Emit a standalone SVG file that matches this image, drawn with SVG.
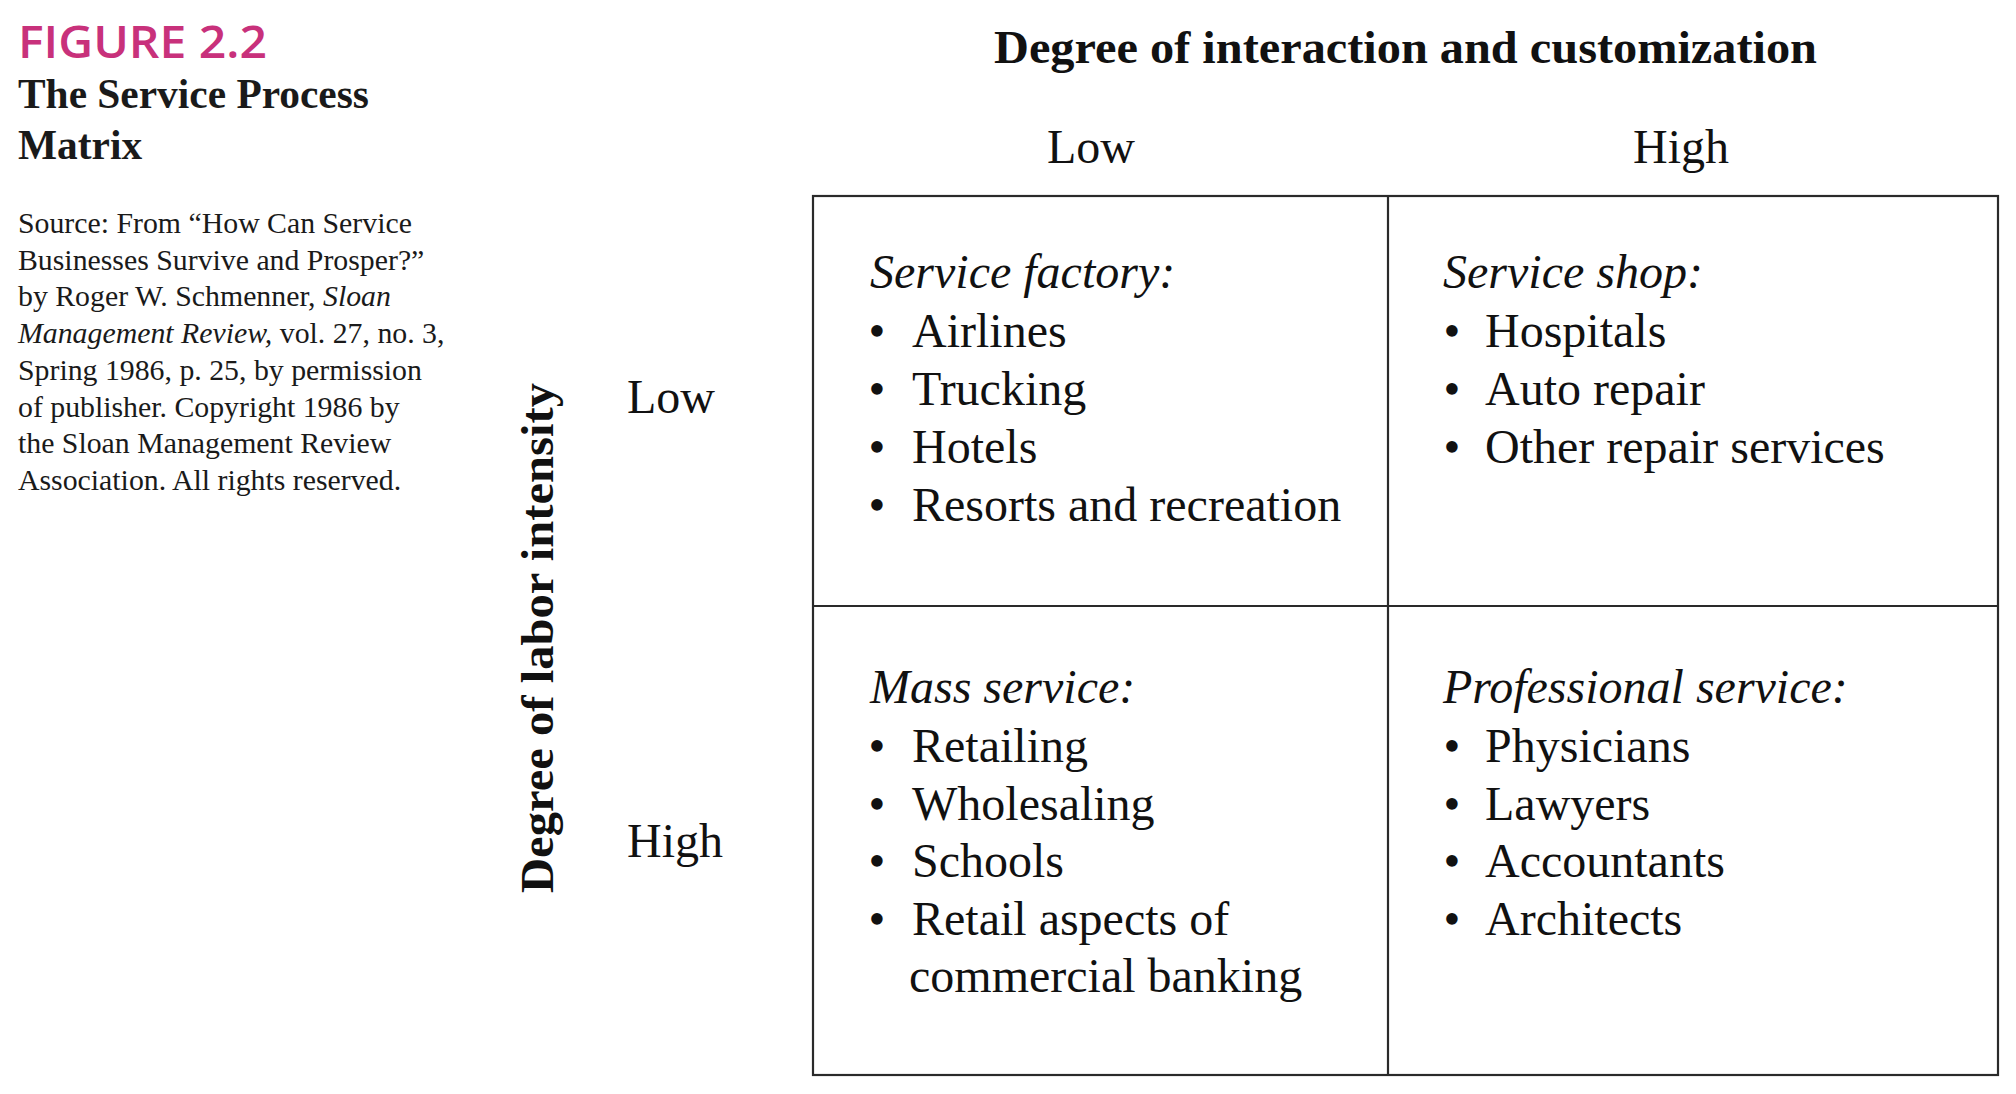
<svg xmlns="http://www.w3.org/2000/svg" width="2016" height="1094" viewBox="0 0 2016 1094">
<style>
.fig{font-family:"Open Sans","Liberation Sans",sans-serif;font-weight:600;font-size:45px;fill:#C8317B}
.ttl{font-family:"Liberation Serif","Times New Roman",serif;font-weight:bold;font-size:41.4px;fill:#1a1a1a}
.src{font-family:"Liberation Serif","Times New Roman",serif;font-size:29.8px;fill:#1a1a1a}
.ax{font-family:"Liberation Serif","Times New Roman",serif;font-weight:bold;font-size:46px;fill:#111}
.lv{font-family:"Liberation Serif","Times New Roman",serif;font-size:48px;fill:#111}
.hd{font-family:"Liberation Serif","Times New Roman",serif;font-style:italic;font-size:48px;fill:#111}
.it{font-family:"Liberation Serif","Times New Roman",serif;font-size:48px;fill:#111}
.bl{font-family:"Liberation Serif","Times New Roman",serif;font-size:48px;fill:#111;text-anchor:middle}
.grid{fill:none;stroke:#2a2a2a;stroke-width:2.2}
</style>
<rect width="2016" height="1094" fill="#fff"/>
<g id="caption">
<text class="fig" x="18" y="58" textLength="249" lengthAdjust="spacingAndGlyphs">FIGURE 2.2</text>
<text class="ttl" x="18" y="108">The Service Process</text>
<text class="ttl" x="18" y="159">Matrix</text>
<text class="src" x="18" y="233">Source: From “How Can Service</text>
<text class="src" x="18" y="270">Businesses Survive and Prosper?”</text>
<text class="src" x="18" y="306">by Roger W. Schmenner, <tspan font-style="italic">Sloan</tspan></text>
<text class="src" x="18" y="343"><tspan font-style="italic">Management Review,</tspan> vol. 27, no. 3,</text>
<text class="src" x="18" y="380">Spring 1986, p. 25, by permission</text>
<text class="src" x="18" y="417">of publisher. Copyright 1986 by</text>
<text class="src" x="18" y="453">the Sloan Management Review</text>
<text class="src" x="18" y="490">Association. All rights reserved.</text>
</g>
<g id="axes">
<text class="ax" x="994" y="63" textLength="823" lengthAdjust="spacingAndGlyphs">Degree of interaction and customization</text>
<text class="lv" x="1091" y="163" text-anchor="middle">Low</text>
<text class="lv" x="1681" y="163" text-anchor="middle">High</text>
<text class="ax" transform="translate(553,893) rotate(-90)" x="0" y="0" textLength="510" lengthAdjust="spacingAndGlyphs">Degree of labor intensity</text>
<text class="lv" x="627" y="413">Low</text>
<text class="lv" x="627" y="857">High</text>
</g>
<g id="connectors">
<rect class="grid" x="813" y="196" width="1185" height="879"/>
<line class="grid" x1="1388" y1="196" x2="1388" y2="1075"/>
<line class="grid" x1="813" y1="606" x2="1998" y2="606"/>
</g>
<g id="service-factory">
<text class="hd" x="870" y="288">Service factory:</text>
<text class="bl" x="877" y="347">•</text><text class="it" x="912" y="347">Airlines</text>
<text class="bl" x="877" y="405">•</text><text class="it" x="912" y="405">Trucking</text>
<text class="bl" x="877" y="463">•</text><text class="it" x="912" y="463">Hotels</text>
<text class="bl" x="877" y="521">•</text><text class="it" x="912" y="521">Resorts and recreation</text>
</g>
<g id="service-shop">
<text class="hd" x="1443" y="288">Service shop:</text>
<text class="bl" x="1452" y="347">•</text><text class="it" x="1485" y="347">Hospitals</text>
<text class="bl" x="1452" y="405">•</text><text class="it" x="1485" y="405">Auto repair</text>
<text class="bl" x="1452" y="463">•</text><text class="it" x="1485" y="463">Other repair services</text>
</g>
<g id="mass-service">
<text class="hd" x="870" y="703">Mass service:</text>
<text class="bl" x="877" y="762">•</text><text class="it" x="912" y="762">Retailing</text>
<text class="bl" x="877" y="820">•</text><text class="it" x="912" y="820">Wholesaling</text>
<text class="bl" x="877" y="877">•</text><text class="it" x="912" y="877">Schools</text>
<text class="bl" x="877" y="935">•</text><text class="it" x="912" y="935">Retail aspects of</text>
<text class="it" x="909" y="992">commercial banking</text>
</g>
<g id="professional-service">
<text class="hd" x="1443" y="703">Professional service:</text>
<text class="bl" x="1452" y="762">•</text><text class="it" x="1485" y="762">Physicians</text>
<text class="bl" x="1452" y="820">•</text><text class="it" x="1485" y="820">Lawyers</text>
<text class="bl" x="1452" y="877">•</text><text class="it" x="1485" y="877">Accountants</text>
<text class="bl" x="1452" y="935">•</text><text class="it" x="1485" y="935">Architects</text>
</g>
</svg>
